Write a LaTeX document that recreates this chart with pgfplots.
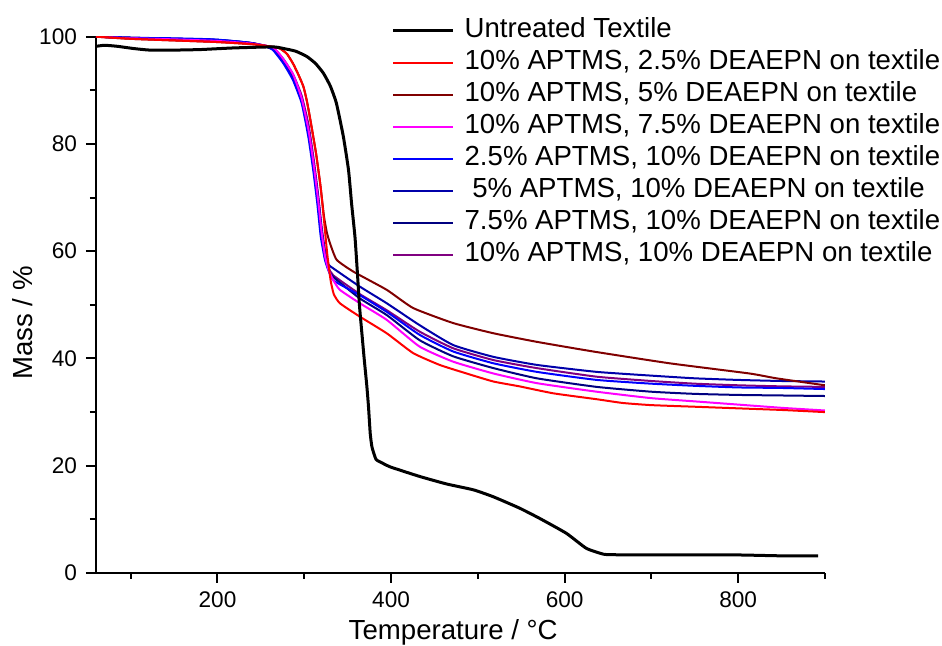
\documentclass[border=0pt]{standalone}
\usepackage{pgfplots}
\pgfplotsset{compat=1.18}
\usepackage{fontspec}
\setmainfont{Liberation Sans}
\definecolor{cRed}{RGB}{255,0,0}
\definecolor{cMaroon}{RGB}{128,0,0}
\definecolor{cMagenta}{RGB}{255,0,255}
\definecolor{cBlue}{RGB}{0,0,255}
\definecolor{cNavyA}{RGB}{0,0,170}
\definecolor{cNavyB}{RGB}{0,0,128}
\definecolor{cPurple}{RGB}{128,0,128}
\begin{document}
\begin{tikzpicture}
\path[use as bounding box] (-48pt,-36.5pt) rectangle (423pt,286.5pt);
\begin{axis}[
    scale only axis,
    width=364.5pt,
    height=268.15pt,
    xmin=60, xmax=900,
    ymin=0, ymax=100,
    axis x line*=bottom,
    axis y line*=left,
    axis line style={line width=1pt},
    xtick={200,400,600,800},
    ytick={0,20,40,60,80,100},
    minor xtick={100,300,500,700,900},
    minor ytick={10,30,50,70,90},
    tick align=outside,
    major tick length=5pt,
    minor tick length=3pt,
    every tick/.style={line width=1pt, black},
    tick label style={font=\fontsize{11.3}{13}\selectfont},
    /pgf/number format/assume math mode=true,
    xticklabel style={yshift=-1pt},
    yticklabel style={xshift=-1pt},
    xlabel={Temperature / °C},
    ylabel={Mass / \%},
    label style={font=\fontsize{13.8}{16}\selectfont},
    xlabel style={at={(axis description cs:0.49,0)}, anchor=base, yshift=-33.5pt},
    ylabel style={at={(axis description cs:0,0.466)}, anchor=base, yshift=31.5pt},
    reverse legend,
    legend cell align=left,
    legend image code/.code={\draw[#1] (0pt,0pt) -- (30pt,0pt);},
    legend style={at={(axis description cs:0.405,1.036)}, anchor=north west,
        draw=none, fill=none, inner sep=0pt, row sep=3pt, column sep=5pt,
        font=\fontsize{13.8}{16}\selectfont,
        nodes={inner sep=0pt, text height=10pt, text depth=3pt}},
    every axis plot/.append style={line width=1pt, line join=round, smooth, tension=0.3},
]

% 10% APTMS, 10% DEAEPN
\addplot[cPurple] coordinates {
    (60,100) (100,99.8) (150,99.6) (200,99.3) (240,98.8) (264,97.9) (276,95.8)
    (287,93.0) (297,89.0) (305,83.5) (311,77.0) (316,70.5) (320,64.5) (324,60.0)
    (328,57.0) (333.4,55.5) (364,52.0) (395,49.0) (433,45.0) (471.6,41.9)
    (518,39.7) (568,38.2) (637,36.6) (700,35.8) (750,35.3) (800,35.0) (850,34.8) (900,34.7)
};
\addlegendentry{10\% APTMS, 10\% DEAEPN on textile}

% 7.5% APTMS, 10% DEAEPN
\addplot[cNavyB] coordinates {
    (60,100) (100,99.8) (150,99.6) (200,99.4) (240,98.8) (264,97.6) (276,95.2)
    (287,92.2) (297,88.0) (305,82.0) (311,75.5) (316,69.5) (320,63.5) (324,59.0)
    (328,56.5) (333.4,55.2) (364,51.2) (395,48.1) (433,43.4) (471.6,40.4)
    (518,38.2) (568,36.3) (637,34.7) (700,33.8) (750,33.4) (800,33.2) (850,33.1) (900,33.0)
};
\addlegendentry{7.5\% APTMS, 10\% DEAEPN on textile}

% 5% APTMS, 10% DEAEPN
\addplot[cNavyA] coordinates {
    (60,100) (100,99.8) (150,99.6) (200,99.4) (240,98.8) (264,97.8) (276,95.5)
    (287,92.5) (297,88.5) (305,82.5) (311,76.0) (316,70.0) (320,64.0) (324,59.5)
    (328,57.5) (333.4,56.8) (364,53.4) (395,50.3) (433,46.2) (471.6,42.5)
    (518,40.3) (568,38.8) (637,37.5) (700,36.8) (750,36.3) (800,36.0) (850,35.8) (900,35.7)
};
\addlegendentry{\ 5\% APTMS, 10\% DEAEPN on textile}

% 2.5% APTMS, 10% DEAEPN
\addplot[cBlue] coordinates {
    (60,100) (100,99.8) (150,99.7) (195,99.5) (230,99.0) (255,98.3) (264,97.5)
    (276,95.0) (287,91.9) (297,87.6) (304.6,81.4) (310.3,75.1) (315,68.9) (319,62.7)
    (323.8,58.4) (327.7,56.5) (334,54.5) (364,51.8) (395,48.7) (433,44.4) (471.6,41.3)
    (518,39.1) (568,37.5) (637,36.0) (700,35.3) (750,34.9) (800,34.6) (850,34.5) (900,34.3)
};
\addlegendentry{2.5\% APTMS, 10\% DEAEPN on textile}

% 10% APTMS, 7.5% DEAEPN
\addplot[cMagenta] coordinates {
    (60,100) (100,99.7) (150,99.5) (200,99.2) (240,98.7) (264,98.0) (275,96.0)
    (287,93.0) (297,88.5) (305,82.5) (311,76.0) (316,69.5) (320,63.5) (324,59.0)
    (328,56.5) (333.4,54.6) (341,52.8) (364,50.3) (395,47.2) (433,42.2) (471.6,39.4)
    (518,37.2) (568,35.4) (637,33.8) (700,32.6) (750,32.0) (800,31.4) (850,30.8) (900,30.3)
};
\addlegendentry{10\% APTMS, 7.5\% DEAEPN on textile}

% 10% APTMS, 5% DEAEPN
\addplot[cMaroon] coordinates {
    (60,100) (100,99.6) (150,99.3) (200,99.0) (240,98.6) (264,98.1) (272,97.8)
    (280,96.8) (287,95.0) (293,93.0) (299,90.7) (303,88.0) (307,84.5) (313.5,78.3)
    (318.8,72.0) (322.7,66.5) (326,63.5) (329.6,61.5) (337.3,58.4) (356.5,56.2)
    (395,52.8) (425.5,49.4) (471.6,46.6) (518,44.7) (568,43.1) (633,41.3)
    (721,39.1) (813,37.2) (844,36.3) (900,35.0)
};
\addlegendentry{10\% APTMS, 5\% DEAEPN on textile}

% 10% APTMS, 2.5% DEAEPN
\addplot[cRed] coordinates {
    (60,100) (100,99.6) (150,99.3) (200,99.0) (240,98.6) (264,98.1) (272,97.8)
    (280,96.8) (287,95.0) (293,93.0) (299,90.7) (303,88.0) (307,84.5) (313.5,78.3)
    (318.8,72.0) (322.7,65.8) (326.4,59.6) (330.3,54.6) (334,52.0) (341,50.3)
    (364,47.8) (395,44.7) (425.5,41.0) (456,38.8) (487,37.2) (518,35.7) (548,34.8)
    (587,33.5) (637,32.4) (667,31.7) (700,31.3) (750,31.0) (800,30.7) (850,30.4) (900,30.0)
};
\addlegendentry{10\% APTMS, 2.5\% DEAEPN on textile}

% Untreated textile
\addplot[black, line width=1.5pt] coordinates {
    (60,98.2) (70,98.4) (85,98.2) (103,97.8) (122,97.5) (150,97.5) (180,97.6)
    (218,97.9) (264,98.1) (276,97.8) (290,97.3) (303,96.3) (313,95.0) (322,93.2)
    (330,90.8) (337,87.6) (345,81.4) (351,75.1) (354.5,68.9) (358.4,62.7) (361,56.5)
    (363.4,50.3) (365,47.2) (369,40.0) (372,35.0) (374,31.0) (376,26.0) (378,23.5)
    (382.6,21.2) (390,20.5) (398.7,19.8) (433,18.0) (464,16.6) (495,15.5) (518,14.2)
    (548,12.1) (571,10.2) (602,7.4) (625,4.6) (645,3.5) (660,3.4) (687,3.36)
    (750,3.4) (802,3.36) (850,3.2) (892,3.2)
};
\addlegendentry{Untreated Textile}

\end{axis}
\end{tikzpicture}
\end{document}
